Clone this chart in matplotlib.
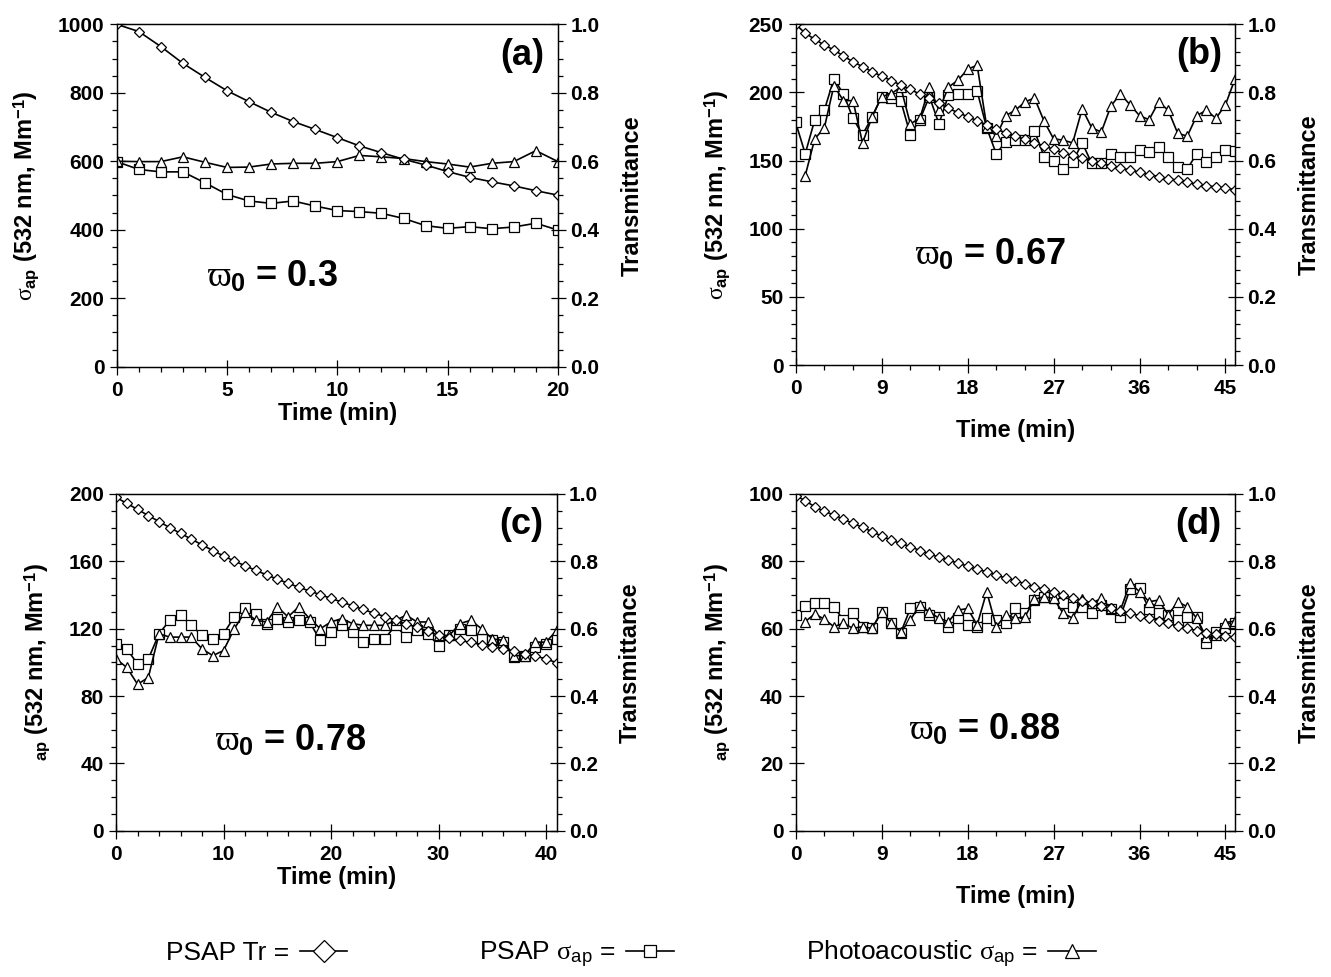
import numpy as np
import matplotlib
matplotlib.use('Agg')
import matplotlib.pyplot as plt
from matplotlib.lines import Line2D
from matplotlib.ticker import MultipleLocator, FormatStrFormatter

plt.rcParams['font.family'] = ['Liberation Sans', 'DejaVu Sans']
plt.rcParams['font.weight'] = 'bold'
plt.rcParams['axes.labelweight'] = 'bold'
plt.rcParams['mathtext.fontset'] = 'custom'
plt.rcParams['mathtext.rm'] = 'Liberation Sans:bold'
plt.rcParams['mathtext.bf'] = 'Liberation Sans:bold'
plt.rcParams['mathtext.it'] = 'Liberation Serif:normal'

# ---- data (time in min) ----
# panel (a)
t_a = list(range(0, 21))
tr_a = [1.0, 0.979, 0.935, 0.886, 0.845, 0.806, 0.774, 0.743, 0.716, 0.693, 0.669,
        0.645, 0.625, 0.606, 0.589, 0.570, 0.553, 0.540, 0.528, 0.514, 0.501]
psap_a = [599, 576, 569, 569, 537, 503, 484, 477, 484, 469, 456,
          453, 448, 433, 412, 404, 409, 403, 408, 419, 399]
pa_a = [600, 599, 599, 613, 597, 582, 583, 592, 594, 594, 599,
        617, 613, 608, 599, 592, 583, 594, 599, 631, 599]

# panel (b)
t_b = list(range(0, 47))
tr_b = [1.0, 0.974, 0.956, 0.939, 0.925, 0.907, 0.890, 0.876, 0.861, 0.848, 0.835,
        0.822, 0.809, 0.795, 0.783, 0.768, 0.753, 0.741, 0.729, 0.717, 0.705,
        0.692, 0.682, 0.672, 0.662, 0.653, 0.643, 0.633, 0.623, 0.615, 0.607,
        0.600, 0.592, 0.585, 0.579, 0.572, 0.566, 0.559, 0.553, 0.547, 0.542,
        0.536, 0.531, 0.526, 0.523, 0.519, 0.515]
psap_b = [178, 155, 180, 187, 210, 199, 181, 169, 182, 197, 196,
          194, 169, 180, 197, 177, 198, 199, 199, 201, 174,
          155, 164, 165, 165, 172, 153, 150, 144, 149, 163,
          148, 148, 155, 153, 153, 158, 156, 160, 153, 145,
          144, 155, 149, 153, 158, 157]
t_pa_b = list(range(1, 47))
pa_b = [139, 166, 174, 205, 194, 194, 163, 182, 197, 199,
        204, 177, 181, 204, 187, 204, 209, 217, 220, 175,
        168, 183, 187, 193, 196, 179, 166, 165, 163, 188,
        174, 171, 190, 199, 191, 183, 180, 193, 187, 170,
        168, 183, 187, 181, 191, 210]

# panel (c)
t_c = list(range(0, 42))
tr_c = [0.990, 0.972, 0.954, 0.936, 0.918, 0.900, 0.883, 0.866, 0.849, 0.832, 0.816,
        0.801, 0.787, 0.773, 0.760, 0.747, 0.735, 0.723, 0.712, 0.701, 0.690,
        0.679, 0.668, 0.657, 0.646, 0.636, 0.625, 0.614, 0.604, 0.593, 0.580,
        0.572, 0.565, 0.559, 0.553, 0.547, 0.540, 0.533, 0.526, 0.519, 0.510, 0.499]
psap_c = [111, 108, 99, 102, 117, 125, 128, 122, 116, 114, 117,
          127, 132, 129, 123, 126, 124, 125, 124, 113, 118,
          122, 118, 112, 114, 114, 122, 115, 119, 117, 110,
          116, 120, 119, 114, 113, 112, 103, 104, 109, 111, 114]
pa_c = [102, 97, 87, 91, 117, 115, 115, 115, 108, 104, 107,
        120, 130, 125, 124, 133, 127, 133, 126, 120, 124,
        126, 123, 122, 122, 122, 125, 128, 124, 124, 116,
        116, 123, 125, 120, 114, 113, 104, 104, 112, 112, 119]

# panel (d)
t_d = list(range(0, 47))
tr_d = [0.995, 0.980, 0.962, 0.948, 0.938, 0.925, 0.913, 0.901, 0.888, 0.875, 0.863,
        0.853, 0.844, 0.832, 0.822, 0.812, 0.804, 0.794, 0.786, 0.776, 0.769,
        0.759, 0.750, 0.743, 0.733, 0.725, 0.717, 0.709, 0.700, 0.690, 0.683,
        0.675, 0.668, 0.660, 0.653, 0.646, 0.638, 0.631, 0.624, 0.616, 0.608,
        0.601, 0.594, 0.588, 0.584, 0.579, 0.574]
psap_d = [64.1, 66.7, 67.5, 67.7, 66.5, 62.6, 64.6, 60.6, 60.1, 65.0, 61.6,
          58.8, 66.0, 66.5, 64.1, 63.6, 60.6, 63.1, 61.1, 60.6, 63.1,
          62.6, 61.6, 66.0, 64.6, 68.5, 69.3, 69.0, 67.5, 66.5, 66.5,
          64.6, 67.0, 65.8, 63.6, 71.7, 72.0, 65.8, 64.6, 64.1, 62.6,
          63.6, 63.6, 55.7, 59.1, 60.1, 61.6]
t_pa_d = list(range(1, 47))
pa_d = [62.1, 64.4, 62.8, 60.6, 61.6, 60.1, 60.6, 60.1, 65.0, 61.6,
        59.1, 62.6, 67.0, 65.0, 63.1, 62.1, 65.5, 66.0, 61.1, 71.0,
        60.6, 64.1, 63.1, 63.5, 68.7, 69.5, 69.0, 64.6, 63.1, 68.7,
        67.5, 69.0, 66.0, 65.5, 73.5, 71.0, 68.0, 68.5, 64.1, 68.0,
        66.5, 63.1, 57.4, 58.1, 61.8, 62.3]

ylabel_full = r'$\sigma_{\mathregular{ap}}$ (532 nm, Mm$^{\mathregular{-1}}$)'
ylabel_cut = r'$_{\mathregular{ap}}$ (532 nm, Mm$^{\mathregular{-1}}$)'

panels = [
    # rect, t, tr, t_pa, pa, psap, ymax, ymaj, ymin, xmax, xmaj, xmin, letter, omega, omega pos, ylabel, xlabelpad
    ([0.0877, 0.6247, 0.3315, 0.3504], t_a, tr_a, t_a, pa_a, psap_a, 1000, 200, 50, 20, 5, 1,
     '(a)', '0.3', (0.205, 0.262), ylabel_full, 1),
    ([0.5978, 0.6264, 0.3301, 0.3487], t_b, tr_b, t_pa_b, pa_b, psap_b, 250, 50, 10, 46, 9, 3,
     '(b)', '0.67', (0.272, 0.323), ylabel_full, 15),
    ([0.0872, 0.1497, 0.3311, 0.3447], t_c, tr_c, t_c, pa_c, psap_c, 200, 40, 10, 41, 10, 2,
     '(c)', '0.78', (0.225, 0.264), ylabel_cut, 1),
    ([0.5978, 0.1497, 0.3301, 0.3447], t_d, tr_d, t_pa_d, pa_d, psap_d, 100, 20, 5, 46, 9, 3,
     '(d)', '0.88', (0.259, 0.299), ylabel_cut, 15),
]

fig = plt.figure(figsize=(13.31, 9.77), dpi=100)

for (rect, t, tr, t_pa, pa, psap, ymax, ymaj, ymin, xmax, xmaj, xmin,
     letter, omega, opos, ylab, xpad) in panels:
    ax = fig.add_axes(rect)
    ax2 = ax.twinx()

    ax.plot(t, psap, '-', color='k', lw=1.2, marker='s', ms=7.5, mfc='white', mec='k', mew=0.9)
    ax.plot(t_pa, pa, '-', color='k', lw=1.2, marker='^', ms=7.5, mfc='white', mec='k', mew=0.9)
    ax2.plot(t, tr, '-', color='k', lw=1.2, marker='D', ms=4.6, mfc='white', mec='k', mew=0.9)

    ax.set_xlim(0, xmax)
    ax.set_ylim(0, ymax)
    ax2.set_ylim(0, 1.0)
    ax.xaxis.set_major_locator(MultipleLocator(xmaj))
    ax.xaxis.set_minor_locator(MultipleLocator(xmin))
    ax.yaxis.set_major_locator(MultipleLocator(ymaj))
    ax.yaxis.set_minor_locator(MultipleLocator(ymin))
    ax2.yaxis.set_major_locator(MultipleLocator(0.2))
    ax2.yaxis.set_minor_locator(MultipleLocator(ymin / ymax))
    ax2.yaxis.set_major_formatter(FormatStrFormatter('%.1f'))

    for a in (ax, ax2):
        a.tick_params(which='major', direction='inout', length=10.8, width=0.9, labelsize=15)
        a.tick_params(which='minor', direction='out', length=3.6, width=0.9)
        for s in a.spines.values():
            s.set_linewidth(0.9)
    ax.tick_params(axis='x', which='major', pad=5)

    ax.set_xlabel('Time (min)', fontsize=17, labelpad=xpad)
    ax.set_ylabel(ylab, fontsize=17, labelpad=12)
    ax2.set_ylabel('Transmittance', fontsize=17, labelpad=15)

    ax.text(0.97, 0.91, letter, transform=ax.transAxes, ha='right', va='center',
            fontsize=26, fontweight='bold')
    ax.text(opos[0], opos[1], r'$\varpi_{0}$' + ' = ' + omega, transform=ax.transAxes,
            ha='left', va='center', fontsize=26, fontweight='bold')

handles = [
    Line2D([], [], color='k', lw=1.2, marker='D', ms=11, mfc='white', mec='k', mew=0.9),
    Line2D([], [], color='k', lw=1.2, marker='s', ms=9, mfc='white', mec='k', mew=0.9),
    Line2D([], [], color='k', lw=1.2, marker='^', ms=10, mfc='white', mec='k', mew=0.9),
]
labels = ['PSAP Tr =', r'PSAP $\sigma_{\mathregular{ap}}$ =', r'Photoacoustic $\sigma_{\mathregular{ap}}$ =']
fig.legend(handles, labels, loc='center', bbox_to_anchor=(0.474, 0.023), ncol=3,
           markerfirst=False, frameon=False, handlelength=1.8, handletextpad=0.4,
           columnspacing=5.0, prop={'weight': 'normal', 'size': 19})

fig.savefig('out.png', dpi=100)
